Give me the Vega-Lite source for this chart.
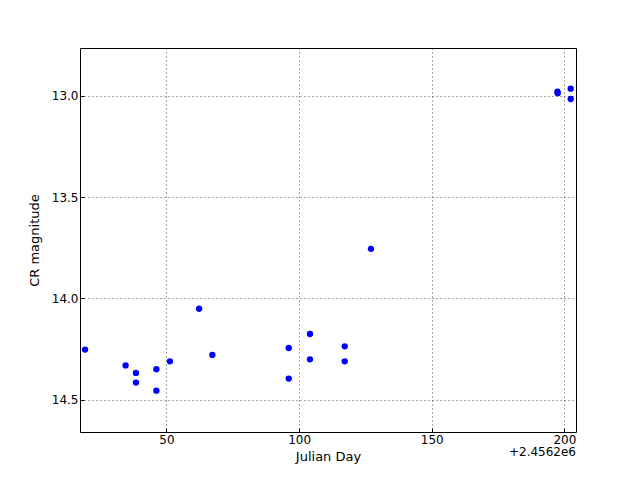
{
  "$schema": "https://vega.github.io/schema/vega-lite/v6.json",
  "width": 496,
  "height": 384,
  "autosize": {"type": "none"},
  "padding": {"left": 80, "top": 48, "right": 64, "bottom": 48},
  "background": "white",
  "config": {
    "font": "DejaVu Sans",
    "view": {"stroke": "black", "strokeWidth": 1},
    "axis": {
      "labelFont": "DejaVu Sans",
      "titleFont": "DejaVu Sans",
      "labelFontSize": 12,
      "titleFontSize": 13,
      "titleFontWeight": "normal",
      "labelColor": "black",
      "titleColor": "black",
      "domain": false,
      "tickColor": "black",
      "tickSize": -4,
      "labelPadding": 6,
      "grid": true,
      "gridColor": "black",
      "gridDash": [1, 3],
      "gridOpacity": 0.7
    }
  },
  "data": {
    "values": [
      {"jd": 19.3, "mag": 14.253},
      {"jd": 34.6, "mag": 14.331},
      {"jd": 38.5, "mag": 14.368},
      {"jd": 38.5, "mag": 14.416},
      {"jd": 46.2, "mag": 14.35},
      {"jd": 46.2, "mag": 14.456},
      {"jd": 51.3, "mag": 14.311},
      {"jd": 62.3, "mag": 14.051},
      {"jd": 67.3, "mag": 14.279},
      {"jd": 96.1, "mag": 14.245},
      {"jd": 96.1, "mag": 14.396},
      {"jd": 104.1, "mag": 14.176},
      {"jd": 104.1, "mag": 14.301},
      {"jd": 117.2, "mag": 14.237},
      {"jd": 117.2, "mag": 14.311},
      {"jd": 127.1, "mag": 13.755},
      {"jd": 197.4, "mag": 12.979},
      {"jd": 197.5, "mag": 12.986},
      {"jd": 202.4, "mag": 12.964},
      {"jd": 202.4, "mag": 13.015}
    ]
  },
  "layer": [
    {
      "mark": {"type": "point", "filled": true, "color": "#0000ff", "size": 40, "opacity": 1},
      "encoding": {
        "x": {
          "field": "jd", "type": "quantitative",
          "scale": {"domain": [17.4, 204.4], "nice": false, "zero": false},
          "axis": {"values": [50, 100, 150, 200], "format": "d", "title": "Julian Day", "titlePadding": 5}
        },
        "y": {
          "field": "mag", "type": "quantitative",
          "scale": {"domain": [14.66, 12.763], "nice": false, "zero": false},
          "axis": {"values": [13.0, 13.5, 14.0, 14.5], "format": ".1f", "title": "CR magnitude", "titlePadding": 10}
        }
      }
    },
    {
      "data": {"values": [{"t": "+2.4562e6"}]},
      "mark": {"type": "text", "align": "right", "baseline": "top", "dy": 15, "dx": 0, "fontSize": 12, "font": "DejaVu Sans", "color": "black", "clip": false},
      "encoding": {
        "x": {"datum": 204.4, "type": "quantitative"},
        "y": {"datum": 14.66, "type": "quantitative"},
        "text": {"field": "t"}
      }
    }
  ]
}
